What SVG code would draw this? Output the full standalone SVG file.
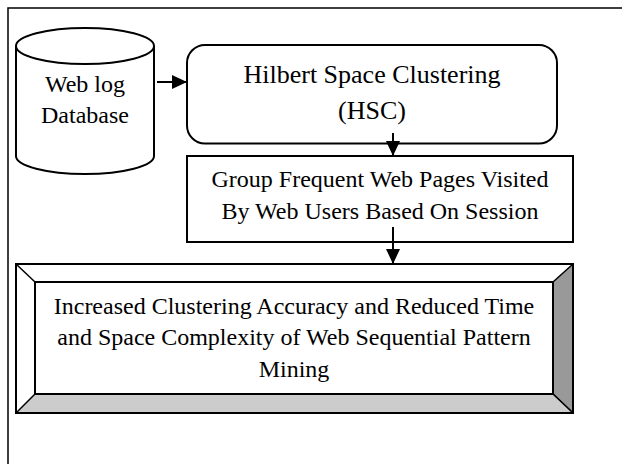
<svg xmlns="http://www.w3.org/2000/svg" width="622" height="464" viewBox="0 0 622 464">
<style>
  .s { fill: #fff; stroke: #000; stroke-width: 2; }
  .t { font-family: "Liberation Serif", "Times New Roman", serif; font-size: 24px; fill: #000; text-anchor: middle; }
  .big { font-size: 26px; }
  .c { stroke: #000; stroke-width: 2; fill: none; }
</style>
<defs>
  <marker id="ah" markerUnits="userSpaceOnUse" markerWidth="16" markerHeight="16" viewBox="0 0 16 16" refX="15" refY="8" orient="auto">
    <path d="M0,1 L15,8 L0,15 Z" fill="#000"/>
  </marker>
</defs>
<rect width="622" height="464" fill="#fff"/>
<rect x="8" y="8" width="700" height="600" fill="none" stroke="#000" stroke-width="1.5"/>

<g id="db">
  <path class="s" d="M16,46 A69,18 0 0 1 154,46 V156 A69,18 0 0 1 16,156 Z"/>
  <path class="c" d="M16,46 A69,18 0 0 0 154,46"/>
  <text class="t" x="85" y="92">Web log</text>
  <text class="t" x="85" y="123">Database</text>
</g>

<g id="hsc">
  <rect class="s" x="187" y="45" width="370" height="98.5" rx="18" ry="18"/>
  <text class="t big" x="372" y="83">Hilbert Space Clustering</text>
  <text class="t big" x="372" y="119">(HSC)</text>
</g>

<g id="group">
  <rect class="s" x="187" y="156" width="386" height="86"/>
  <text class="t" x="380" y="187">Group Frequent Web Pages Visited</text>
  <text class="t" x="380" y="219">By Web Users Based On Session</text>
</g>

<g id="result">
  <rect x="16" y="264" width="557" height="149" fill="#fff" stroke="none"/>
  <polygon points="553,282 573,264 573,413 553,394" fill="#999" stroke="#000" stroke-width="1.5" stroke-linejoin="round"/>
  <polygon points="35,394 553,394 573,413 16,413" fill="#ccc" stroke="#000" stroke-width="1.5" stroke-linejoin="round"/>
  <line x1="16" y1="264" x2="35" y2="282" stroke="#000" stroke-width="1.5"/>
  <rect x="16" y="264" width="557" height="149" fill="none" stroke="#000" stroke-width="2"/>
  <rect x="35" y="282" width="518" height="112" fill="#fff" stroke="#000" stroke-width="2"/>
  <text class="t" x="294" y="314">Increased Clustering Accuracy and Reduced Time</text>
  <text class="t" x="294" y="345">and Space Complexity of Web Sequential Pattern</text>
  <text class="t" x="294" y="377">Mining</text>
</g>

<g id="connectors">
  <line class="c" x1="157" y1="82" x2="187" y2="82" marker-end="url(#ah)"/>
  <line class="c" x1="393" y1="133" x2="393" y2="156" marker-end="url(#ah)"/>
  <line class="c" x1="393" y1="227" x2="393" y2="264" marker-end="url(#ah)"/>
</g>
</svg>
